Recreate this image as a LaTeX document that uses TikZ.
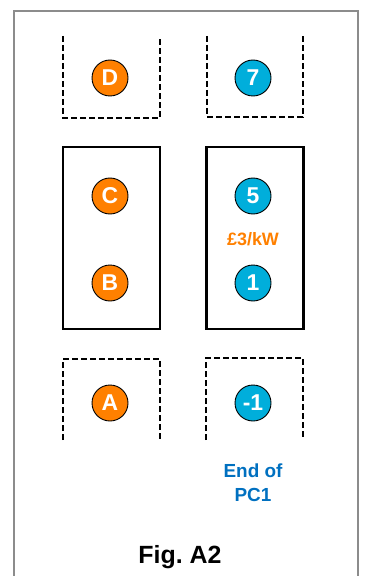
\documentclass[tikz,border=0pt]{standalone}
\usepackage{fontspec}
\setmainfont{Liberation Sans}
\usetikzlibrary{positioning}
\definecolor{ptorange}{RGB}{255,128,0}
\definecolor{ptcyan}{RGB}{0,174,219}
\definecolor{ptblue}{RGB}{0,112,192}
\tikzset{
  marker/.style={circle, draw=black, line width=0.9bp, inner sep=0pt, minimum size=36bp,
    text=white, font=\fontsize{23}{23}\selectfont\bfseries},
  orangemark/.style={marker, fill=ptorange},
  bluemark/.style={marker, fill=ptcyan},
  openbox/.style={line width=2.5bp, dash pattern=on 6bp off 3bp},
  closedbox/.style={draw, line width=2.2bp, minimum width=97bp, minimum height=182bp, inner sep=0pt},
  note/.style={align=center, font=\fontsize{19}{24}\selectfont\bfseries}
}

\begin{document}
\begin{tikzpicture}[x=1bp, y=-1bp]
    \useasboundingbox (0,0) rectangle (369,576);
    % outer frame
    \draw[line width=1.2bp, black!45] (14,576) -- (14,11) -- (358,11) -- (358,576);
    % open boxes at top
    \draw[openbox] (63,36) -- (63,118) -- (160,118) -- (160,36);
    \draw[openbox] (207,36) -- (207,117) -- (303,117) -- (303,36);
    % closed boxes
    \node[closedbox] (left) at (111.5,238) {};
    \node[closedbox] (right) at (255,238) {};
    % open boxes at bottom
    \draw[openbox] (63,440) -- (63,359) -- (160,359) -- (160,440);
    \draw[openbox] (206,440) -- (206,358) -- (303,358) -- (303,440);
    % markers
    \node[orangemark] (D) at (110,78) {D};
    \node[orangemark] (C) at (110,196) {C};
    \node[orangemark] (B) at (110,283) {B};
    \node[orangemark] (A) at (110,403) {A};
    \node[bluemark] (p7) at (253,78) {7};
    \node[bluemark] (p5) at (253,196) {5};
    \node[bluemark] (p1) at (253,283) {1};
    \node[bluemark] (m1) at (253,403) {-1};
    % labels
    \node[note, text=ptorange, font=\fontsize{18}{20}\selectfont\bfseries] (price) at (253,239) {£3/kW};
    \node[note, text=ptblue] (endpc) at (253,483) {End of\\PC1};
    \node[font=\fontsize{25}{25}\selectfont\bfseries] (fig) at (180,557) {Fig.\ A2};
  \end{tikzpicture}
\end{document}
